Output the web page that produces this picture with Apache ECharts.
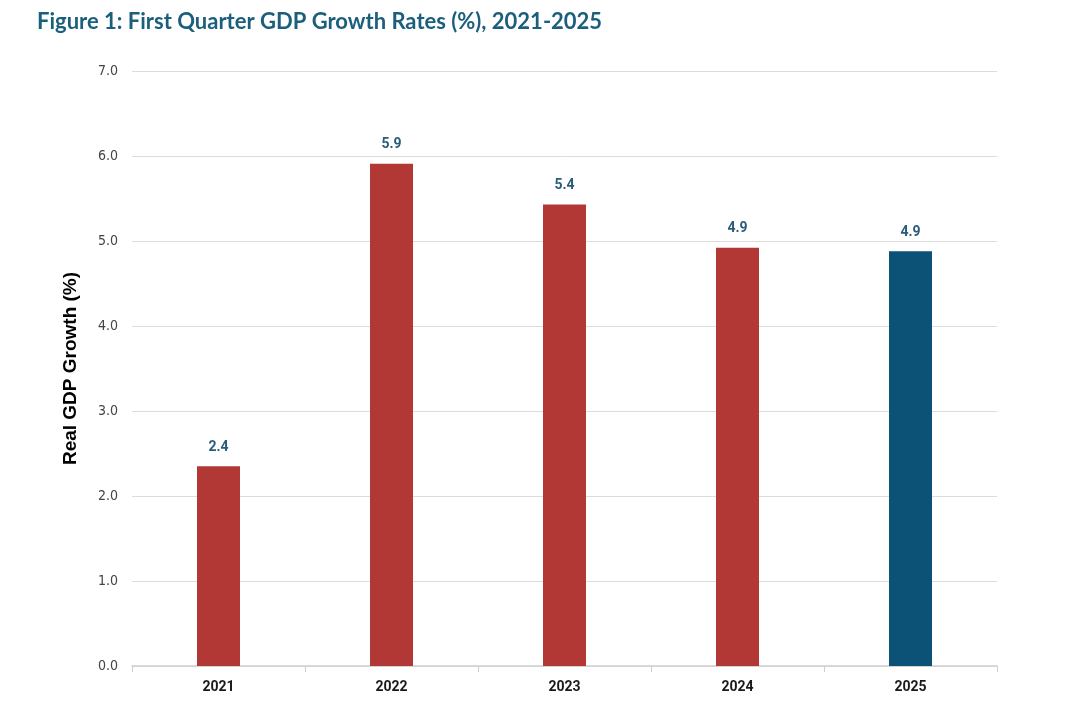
<!DOCTYPE html>
<html>
<head>
<meta charset="utf-8">
<script src="https://cdn.jsdelivr.net/npm/echarts@6/dist/echarts.min.js"></script>
<style>
  html, body { margin:0; padding:0; background:#fff; }
  #chart { width:1080px; height:724px; }
</style>
</head>
<body>
<div id="chart"></div>
<script>
// data
var years = ['2021', '2022', '2023', '2024', '2025']
var growth = [2.35, 5.91, 5.43, 4.92, 4.88]
var growthLabels = ['2.4', '5.9', '5.4', '4.9', '4.9']
var yTicks = [0, 1, 2, 3, 4, 5, 6, 7]

var RED = '#b23836'
var BLUE = '#0b5276'

var chart = echarts.init(document.getElementById('chart'))

var barData = growth.map(function (v, i) {
    return {
        value: v,
        itemStyle: { color: i === growth.length - 1 ? BLUE : RED },
        label: { formatter: growthLabels[i] }
    }
})

var option = {
    backgroundColor: '#ffffff',
    animation: false,
    title: {
        text: 'Figure 1: First Quarter GDP Growth Rates (%), 2021-2025',
        left: 32,
        top: 6,
        textStyle: {
            color: '#1c5f7c',
            fontFamily: 'Lato, "Open Sans", sans-serif',
            fontWeight: 'bold',
            fontSize: 22
        }
    },
    grid: { left: 132, right: 83, top: 71, bottom: 58 },
    xAxis: {
        type: 'category',
        data: years,
        axisLine: { lineStyle: { color: '#cfcfcf', width: 1.5 } },
        axisTick: { show: true, length: 6, lineStyle: { color: '#cfcfcf' } },
        axisLabel: {
            color: '#1a1a1a',
            fontSize: 14,
            fontWeight: 'bold',
            fontFamily: 'Roboto, sans-serif',
            margin: 14
        }
    },
    yAxis: {
        type: 'value',
        min: yTicks[0],
        max: yTicks[yTicks.length - 1],
        interval: 1,
        name: 'Real GDP Growth (%)',
        nameLocation: 'middle',
        nameGap: 52,
        nameTextStyle: {
            color: '#000',
            fontSize: 19,
            fontWeight: 'bold',
            fontFamily: '"Liberation Sans", Arial, sans-serif'
        },
        axisLine: { show: false },
        axisTick: { show: false },
        axisLabel: {
            color: '#444',
            fontSize: 14,
            fontFamily: '"Liberation Sans Narrow", "DejaVu Sans Condensed", sans-serif',
            margin: 14,
            formatter: function (v) { return v.toFixed(1) }
        },
        splitLine: { lineStyle: { color: '#dcdcdc', width: 1 } }
    },
    series: [{
        type: 'bar',
        data: barData,
        barWidth: 43,
        label: {
            show: true,
            position: 'top',
            distance: 12,
            color: '#2b5c78',
            fontSize: 14,
            fontWeight: 'bold',
            fontFamily: 'Roboto, sans-serif'
        }
    }]
}

chart.setOption(option)
</script>
</body>
</html>
